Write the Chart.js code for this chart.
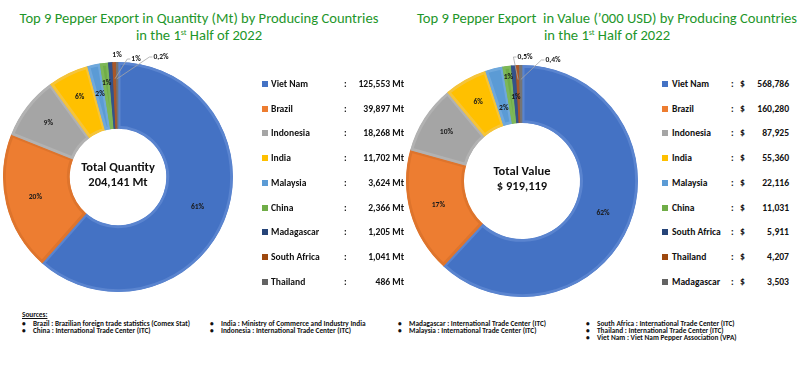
<!DOCTYPE html>
<html><head><meta charset="utf-8">
<script src="https://cdn.jsdelivr.net/npm/chart.js@4.4.1/dist/chart.umd.min.js"></script>
<style>
body{margin:0;width:800px;height:389px;background:#fff;position:relative;overflow:hidden;font-family:Carlito,Lato,sans-serif;}
.title{position:absolute;color:#1E962A;font-size:14.6px;text-align:center;line-height:17px;white-space:nowrap;}
.title sup{font-size:8px;vertical-align:top;line-height:8px;position:relative;top:1px;}
canvas{position:absolute;}
.lg{position:absolute;font-size:9.6px;font-weight:bold;color:#111;white-space:nowrap;line-height:12px;}
.sq{position:absolute;width:6px;height:6px;top:3px;}
.src{position:absolute;font-size:7.3px;color:#111;white-space:nowrap;line-height:7px;font-weight:bold;}
</style></head>
<body>
<div class="title" id="t1" style="left:0;width:398px;top:10px;"></div>
<div class="title" id="t2" style="left:407px;width:400px;top:10px;"></div>
<canvas id="c1" width="240" height="260" style="left:0;top:40px;"></canvas>
<canvas id="c2" width="245" height="265" style="left:400px;top:40px;"></canvas>
<div id="legends"></div>
<div id="sources"></div>
<script>
// ---- data ----
const qtyCountries = ['Viet Nam','Brazil','Indonesia','India','Malaysia','China','Madagascar','South Africa','Thailand'];
const qtyValues = [125553, 39897, 18268, 11702, 3624, 2366, 1205, 1041, 486];
const qtyLabels = ['61%','20%','9%','6%','2%','1%','1%','1%','0,2%'];
const qtyTotal = '204,141 Mt';

const valCountries = ['Viet Nam','Brazil','Indonesia','India','Malaysia','China','South Africa','Thailand','Madagascar'];
const valValues = [568786, 160280, 87925, 55360, 22116, 11031, 5911, 4207, 3503];
const valLabels = ['62%','17%','10%','6%','2%','1%','1%','0,5%','0,4%'];
const valTotal = '$ 919,119';

const title1 = 'Top 9 Pepper Export in Quantity (Mt) by Producing Countries';
const title2 = 'Top 9 Pepper Export &nbsp;in Value (\u2019000 USD) by Producing Countries';
const sourcesCols = [
  ['Brazil : Brazilian foreign trade statistics (Comex Stat)','China : International Trade Center (ITC)'],
  ['India : Ministry of Commerce and Industry India','Indonesia : International Trade Center (ITC)'],
  ['Madagascar : International Trade Center (ITC)','Malaysia : International Trade Center (ITC)'],
  ['South Africa : International Trade Center (ITC)','Thailand : International Trade Center (ITC)','Viet Nam : Viet Nam Pepper Association (VPA)']
];

// ---- styles ----
const colors = ['#4472C4','#ED7D31','#A5A5A5','#FFC000','#5B9BD5','#70AD47','#264478','#9E480E','#636363'];
const borders = ['#5A84CF','#DE742C','#B2B2B2','#F5C43A','#6FA8DC','#7DB758','#34528A','#A8582A','#757575'];
const FONT = 'Carlito, Lato, sans-serif';

document.getElementById('t1').innerHTML = title1 + '<br>in the 1<sup>st</sup> Half of 2022';
document.getElementById('t2').innerHTML = title2 + '<br>in the 1<sup>st</sup> Half of 2022';

const sliceLabels = {
  id:'sliceLabels',
  afterDatasetsDraw(chart, args, opts){
    const ctx = chart.ctx, meta = chart.getDatasetMeta(0);
    ctx.save();
    ctx.font = 'bold 7.6px ' + FONT;
    ctx.textAlign = 'center'; ctx.textBaseline = 'middle';
    meta.data.forEach((arc,i)=>{
      const p = arc.getProps(['x','y','startAngle','endAngle','innerRadius','outerRadius'], true);
      const mid = (p.startAngle + p.endAngle)/2;
      const pl = opts.place[i];
      const txt = opts.labels[i];
      ctx.fillStyle = '#1a1a1a';
      if (pl.out === undefined) {
        const r = p.innerRadius + (p.outerRadius - p.innerRadius)*pl.r;
        ctx.fillText(txt, p.x + Math.cos(mid)*r, p.y + Math.sin(mid)*r);
      } else {
        const lx = p.x + pl.out, ly = p.y - p.outerRadius - pl.dy;
        const ar = p.innerRadius + (p.outerRadius - p.innerRadius)*0.75;
        if (pl.line) {
          const w = ctx.measureText(txt).width;
          ctx.strokeStyle = '#A6A6A6'; ctx.lineWidth = 0.8;
          ctx.beginPath();
          ctx.moveTo(p.x + Math.cos(mid)*ar, p.y + Math.sin(mid)*ar);
          ctx.lineTo(lx - w/2 - 4, ly);
          ctx.lineTo(lx - w/2 - 1, ly);
          ctx.stroke();
        }
        ctx.fillText(txt, lx, ly);
      }
    });
    // center text
    ctx.font = 'bold 12.5px ' + FONT;
    ctx.fillStyle = '#111';
    const c = meta.data[0];
    ctx.fillText(opts.center[0], c.x, c.y - 9);
    ctx.fillText(opts.center[1], c.x, c.y + 6);
    ctx.restore();
  }
};

function makeChart(id, values, labels, cutout, padding, place, center){
  return new Chart(document.getElementById(id), {
    type:'doughnut',
    data:{labels: labels.map((_,i)=>i), datasets:[{data: values, backgroundColor: colors, borderColor: borders, borderWidth: 2.5, borderAlign:'inner'}]},
    options:{
      responsive:false, animation:false, cutout: cutout, rotation:0,
      layout:{padding: padding},
      plugins:{legend:{display:false}, tooltip:{enabled:false},
        sliceLabels:{labels: labels, place: place, center: center}}
    },
    plugins:[sliceLabels]
  });
}

makeChart('c1', qtyValues, qtyLabels, '42%', {left:3,right:7,top:22,bottom:8},
  [{r:0.55},{r:0.55},{r:0.6},{r:0.6},{r:0.55},{r:0.7},{out:-1,dy:7,line:false},{out:18,dy:3,line:true},{out:43,dy:5,line:true}],
  ['Total Quantity', qtyTotal]);
makeChart('c2', valValues, valLabels, '50%', {left:6,right:7,top:25,bottom:8},
  [{r:0.5},{r:0.5},{r:0.55},{r:0.55},{r:0.3},{r:0.8},{r:0.45},{out:3,dy:8,line:true},{out:31,dy:5,line:true}],
  ['Total Value', valTotal]);

// legends
const lg = document.getElementById('legends');
function legendRow(html){ const d=document.createElement('div'); d.innerHTML=html; lg.appendChild(d.firstChild); }
qtyCountries.forEach((n,i)=>{
  const y = 78 + i*24.7;
  legendRow(`<div class="lg" style="left:262px;top:${y}px;width:142px;height:12px;"><span class="sq" style="left:0;background:${colors[i]}"></span><span style="position:absolute;left:9px">${n}</span><span style="position:absolute;left:82px">:</span><span style="position:absolute;right:0">${qtyValues[i].toLocaleString('en-US')} Mt</span></div>`);
});
valCountries.forEach((n,i)=>{
  const y = 78 + i*24.7;
  legendRow(`<div class="lg" style="left:662px;top:${y}px;width:127px;height:12px;"><span class="sq" style="left:0;background:${colors[i]}"></span><span style="position:absolute;left:10px">${n}</span><span style="position:absolute;left:69px">:</span><span style="position:absolute;left:78px">$</span><span style="position:absolute;right:0">${valValues[i].toLocaleString('en-US')}</span></div>`);
});

// sources
const src = document.getElementById('sources');
src.innerHTML = '<div class="src" style="left:22px;top:311px;text-decoration:underline;">Sources:</div>';
const colX = [22, 210, 398, 586];
sourcesCols.forEach((col,ci)=>{
  col.forEach((t,ri)=>{
    const y = 319.5 + ri*7;
    src.innerHTML += `<div class="src" style="left:${colX[ci]}px;top:${y}px;">\u2022</div><div class="src" style="left:${colX[ci]+11}px;top:${y}px;">${t}</div>`;
  });
});
</script>
</body></html>
